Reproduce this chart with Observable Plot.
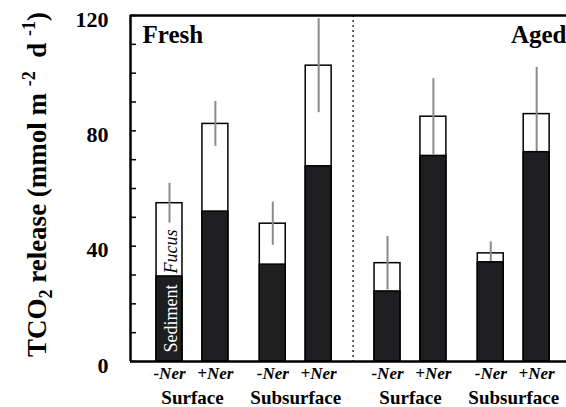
<!DOCTYPE html>
<html><head><meta charset="utf-8">
<script src="https://cdn.jsdelivr.net/npm/d3@7"></script>
<script src="https://cdn.jsdelivr.net/npm/@observablehq/plot@0.6"></script>
<style>body{margin:0;background:#fff} svg{display:block} #chart svg text{font-family:"Liberation Serif",serif}</style>
</head><body><div id="chart"></div>
<script>
// ---- data ----
const groups = ["Fresh", "Aged"];
const locations = ["Surface", "Subsurface"];
const treatments = ["-Ner", "+Ner"];
const yTicks = [0, 40, 80, 120];
const yMinorTicks = [0, 10, 20, 30, 40, 50, 60, 70, 80, 90, 100, 110, 120];
// bar order: Fresh(Surface -Ner,+Ner, Subsurface -Ner,+Ner), Aged(same)
const sediment = [29.5, 52.0, 33.6, 67.7, 24.3, 71.3, 34.4, 72.6];
const total    = [54.9, 82.4, 47.8, 102.6, 34.1, 84.9, 37.5, 85.8];
const errSD    = [6.9, 7.8, 7.5, 16.3, 9.3, 13.2, 4.0, 16.2];
const partLabels = ["Sediment", "Fucus"];
const yLabel = "TCO2 release (mmol m-2 d-1)";

// ---- layout (slot units) ----
const T_STEP = 4, L_STEP = 9, G_STEP = 19, HALF = 1.13;
const xDomain = [-3.4, 34.6];
const rows = [];
let k = 0;
groups.forEach((g, gi) => locations.forEach((l, li) => treatments.forEach((t, ti) => {
  rows.push({group: g, location: l, treatment: t,
    slot: gi * G_STEP + li * L_STEP + ti * T_STEP,
    sediment: sediment[k], total: total[k], sd: errSD[k]});
  k++;
})));
const pairs = d3.groups(rows, d => d.group + "|" + d.location)
  .map(([key, v]) => ({location: v[0].location, slot: d3.mean(v, d => d.slot)}));
const divider = [(d3.max(rows.filter(d => d.group === groups[0]), d => d.slot) +
                  d3.min(rows.filter(d => d.group === groups[1]), d => d.slot)) / 2];

const serif = "Liberation Serif";

const chart = Plot.plot({
  width: 566, height: 407,
  marginLeft: 130, marginRight: 0, marginTop: 15, marginBottom: 46,
  x: {domain: xDomain, axis: null},
  y: {domain: [0, 120], axis: null},
  style: {fontFamily: serif, background: "#fff", color: "#000"},
  marks: [
    Plot.rect(rows, {x1: d => d.slot - HALF, x2: d => d.slot + HALF, y1: 0, y2: "total",
      fill: "white", stroke: "black", strokeWidth: 1.5}),
    Plot.ruleX(rows, {x: "slot", y1: d => d.total - d.sd, y2: d => d.total + d.sd,
      stroke: "#8a8a8a", strokeWidth: 2}),
    Plot.rect(rows, {x1: d => d.slot - HALF, x2: d => d.slot + HALF, y1: 0, y2: "sediment",
      fill: "#1e1e20", stroke: "black", strokeWidth: 1.5}),
    Plot.ruleX(divider, {stroke: "black", strokeWidth: 1.2, strokeDasharray: "2,3"}),
    Plot.ruleY([0], {stroke: "black", strokeWidth: 2.5}),
    Plot.ruleY([120], {stroke: "black", strokeWidth: 2.5}),
    Plot.ruleX([xDomain[0]], {stroke: "black", strokeWidth: 2.5}),
    Plot.axisY(yMinorTicks, {tickSize: -6, text: null, strokeWidth: 1.5, label: null}),
    Plot.axisY(yTicks, {tickSize: 0, tickPadding: 22, fontSize: 22, fontWeight: "bold",
      fontFamily: serif, dy: 4, label: null}),
    Plot.text([groups[0]], {frameAnchor: "top-left", dx: 12, dy: 10, lineAnchor: "top",
      text: d => d, fontSize: 25, fontWeight: "bold", fontFamily: serif}),
    Plot.text([groups[1]], {frameAnchor: "top-right", dx: 0, dy: 10, lineAnchor: "top",
      textAnchor: "end", text: d => d, fontSize: 25, fontWeight: "bold", fontFamily: serif}),
    Plot.text(rows, {x: "slot", frameAnchor: "bottom", text: "treatment", lineAnchor: "bottom",
      dy: 17, fontSize: 17, fontWeight: "bold", fontStyle: "italic", fontFamily: serif}),
    Plot.text(pairs, {x: "slot", frameAnchor: "bottom", text: "location", lineAnchor: "bottom",
      dy: 42, fontSize: 19, fontWeight: "bold", fontFamily: serif}),
    Plot.text([rows[0]], {x: "slot", y: 0, text: () => partLabels[0], rotate: -90,
      textAnchor: "start", lineAnchor: "middle", dy: -9, dx: 2, fill: "white", fontSize: 18,
      fontFamily: serif}),
    Plot.text([rows[0]], {x: "slot", y: "sediment", text: () => partLabels[1], rotate: -90,
      textAnchor: "start", lineAnchor: "middle", dy: -3, dx: 2, fill: "black", fontSize: 18,
      fontStyle: "italic", fontFamily: serif}),
    Plot.text([yLabel], {frameAnchor: "left", text: d => d, rotate: -90, lineAnchor: "bottom",
      textAnchor: "middle", dx: -85, dy: -4, fontSize: 27, fontWeight: "bold",
      fontFamily: serif, className: "ylab"})
  ]
});
document.getElementById("chart").appendChild(chart);

// subscripts / superscripts in the y label
const t = d3.select(chart).select("g.ylab text");
t.text(null);
t.append("tspan").text("TCO");
t.append("tspan").attr("dy", 6).attr("font-size", 18).text("2");
t.append("tspan").attr("dy", -6).text(" release (mmol m ");
t.append("tspan").attr("dy", -11).attr("font-size", 18).text("-2");
t.append("tspan").attr("dy", 11).text("  d ");
t.append("tspan").attr("dy", -11).attr("font-size", 18).text("-1");
t.append("tspan").attr("dy", 11).text(")");
</script>
</body></html>
